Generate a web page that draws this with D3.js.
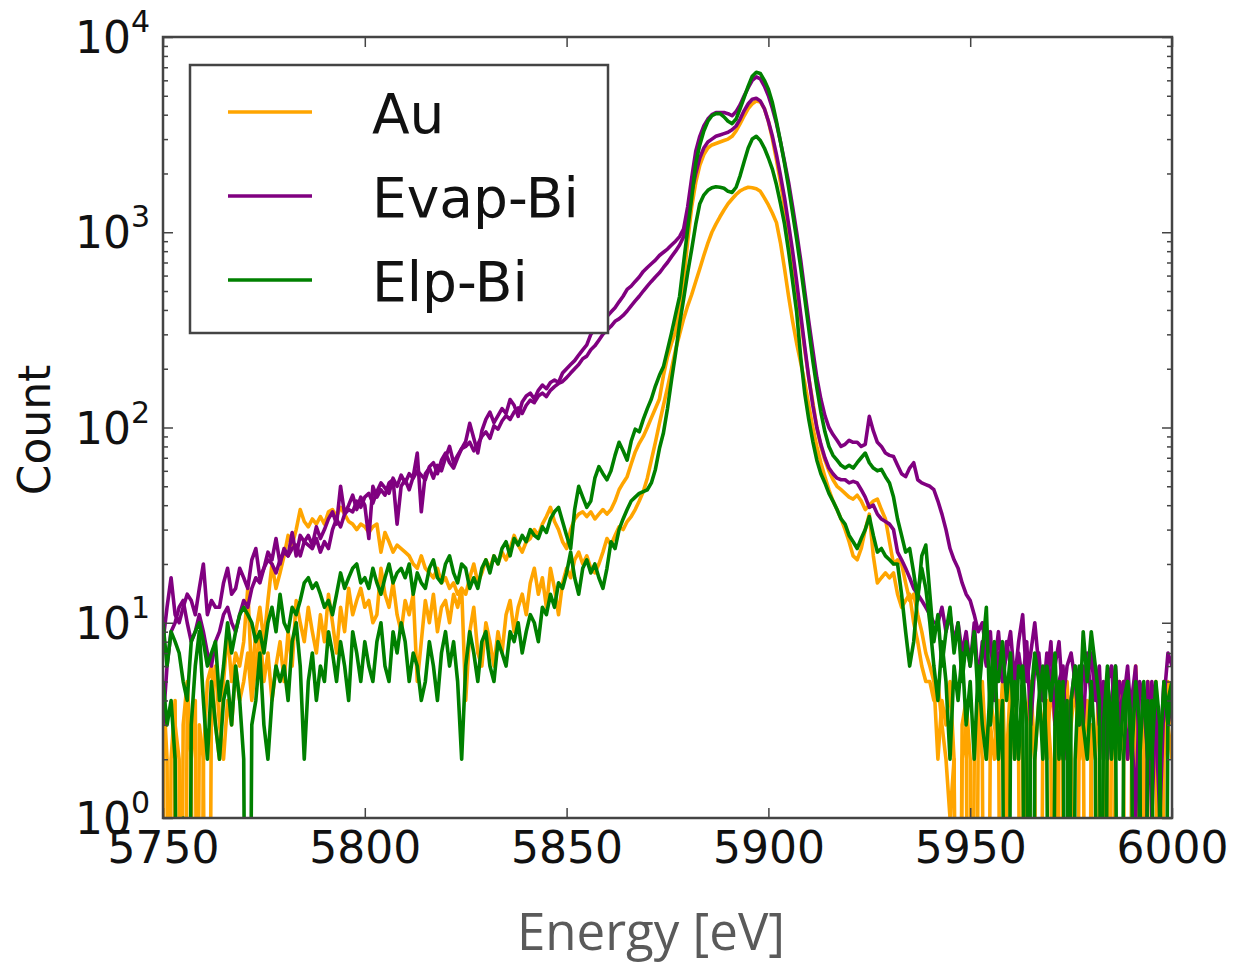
<!DOCTYPE html>
<html>
<head>
<meta charset="utf-8">
<script src="https://cdn.jsdelivr.net/npm/d3@7"></script>
<style>
  body { margin: 0; background: #fff; }
  svg text { font-family: "DejaVu Sans", sans-serif; }
</style>
</head>
<body>
<div id="chart"></div>
<script>
// energy bins: 1 eV wide, first bin at 5750 eV
var binStart = 5750;
var binWidth = 1;

var xTicks = [5750, 5800, 5850, 5900, 5950, 6000];
var yDecades = [1, 10, 100, 1000, 10000];

var seriesNames = ["Au", "Evap-Bi", "Elp-Bi"];
var seriesColors = ["#ffa500", "#800080", "#008000"];

// counts per bin, 5750 ... 6000 eV
var auHi = [
  3, 0, 2, 4, 0, 3, 5, 2, 4, 0,
  2, 5, 6, 3, 2, 5, 9, 5, 7, 6,
  8, 15, 5, 9, 12, 8, 13, 20, 15, 18,
  22, 28, 25, 30, 38, 33, 31, 34, 32, 35,
  32, 37, 38, 35, 39, 36, 33, 32, 30, 32,
  31, 29, 31, 32, 23, 29, 26, 23, 25, 24,
  23, 22, 20, 19, 22, 19, 18, 17, 19, 16,
  17, 15, 16, 14, 15, 14, 17, 20, 16, 18,
  21, 19, 22, 20, 23, 21, 24, 28, 25, 23,
  26, 27, 30, 28, 32, 35, 39, 33, 30, 26,
  24, 30, 34, 36, 37, 35, 37, 34, 36, 38,
  36, 38, 42, 48, 52, 56, 65, 75, 83, 90,
  100, 112, 125, 140, 185, 230, 270, 310, 420, 560,
  900, 1350, 1800, 2200, 2500, 2700, 2800, 2850, 2900, 2950,
  3000, 3100, 3300, 3600, 3950, 4300, 4550, 4700, 4650, 4300,
  3700, 3000, 2350, 1800, 1350, 1000, 730, 520, 360, 250,
  180, 135, 100, 80, 68, 60, 54, 50, 48, 46,
  44, 43, 45, 42, 38, 40, 42, 43, 38, 34,
  26, 20, 21, 20, 16, 13, 14, 11, 9, 7,
  6, 5, 2, 4, 3, 5, 2, 0, 3, 4,
  2, 0, 3, 5, 2, 4, 3, 2, 5, 1,
  3, 4, 2, 0, 3, 5, 2, 4, 3, 2,
  5, 3, 0, 4, 2, 3, 5, 2, 4, 0,
  3, 2, 5, 3, 2, 0, 4, 3, 5, 2,
  3, 6, 2, 4, 0, 3, 5, 2, 4, 3, 2
];

var auLo = [
  5, 2, 0, 3, 2, 0, 4, 2, 0, 3,
  2, 0, 4, 6, 3, 2, 4, 3, 6, 4,
  5, 7, 4, 6, 9, 5, 7, 4, 6, 8,
  5, 9, 6, 13, 10, 8, 12, 9, 7, 11,
  8, 14, 10, 7, 12, 9, 15, 11, 13, 15,
  12, 13, 10, 11, 19, 14, 12, 16, 11, 9,
  13, 11, 14, 5, 8, 13, 10, 14, 9, 12,
  13, 10, 14, 12, 15, 4, 9, 12, 7, 6,
  10, 8, 6, 9, 7, 11, 13, 9, 12, 14,
  11, 16, 19, 14, 17, 12, 19, 15, 11, 16,
  19, 17, 21, 23, 20, 22, 19, 18, 20, 23,
  27, 25, 28, 31, 30, 33, 35, 38, 42, 47,
  55, 68, 84, 105, 130, 160, 200, 250, 300, 360,
  420, 480, 560, 650, 760, 880, 1000, 1100, 1200, 1300,
  1400, 1480, 1560, 1630, 1670, 1700, 1690, 1670, 1620, 1500,
  1380, 1250, 1120, 880, 650, 470, 350, 270, 215, 170,
  130, 100, 80, 66, 56, 48, 42, 38, 34, 30,
  26, 22, 21, 24, 30, 36, 22, 16, 17, 18,
  17, 18, 14, 12, 13, 14, 10, 8, 6, 5,
  5, 4, 5, 3, 2, 1, 2, 0, 2, 3,
  0, 2, 4, 2, 0, 3, 2, 4, 0, 2,
  5, 2, 3, 2, 0, 4, 2, 0, 3, 4,
  2, 0, 3, 2, 5, 2, 0, 3, 2, 4,
  2, 0, 2, 4, 0, 3, 2, 5, 2, 0,
  2, 4, 0, 2, 5, 2, 3, 0, 2, 5, 3
];

var evapHi = [
  8, 12, 17, 11, 10, 12, 14, 13, 11, 15,
  20, 11, 13, 12, 12, 16, 19, 14, 15, 19,
  17, 15, 21, 24, 17, 19, 23, 21, 27, 20,
  24, 22, 29, 22, 28, 26, 28, 25, 31, 27,
  30, 34, 37, 32, 50, 36, 40, 45, 38, 44,
  40, 27, 50, 44, 48, 45, 52, 54, 32, 50,
  54, 48, 56, 74, 37, 58, 62, 55, 64, 60,
  70, 80, 66, 72, 78, 85, 105, 88, 74, 96,
  110, 120, 106, 115, 125, 118, 139, 130, 114, 135,
  145, 150, 140, 155, 165, 158, 170, 175, 170, 190,
  200, 210, 220, 235, 250, 265, 300, 320, 340, 355,
  370, 390, 410, 440, 470, 510, 530, 560, 590, 630,
  660, 690, 720, 760, 790, 820, 860, 900, 950, 1040,
  1350, 1900, 2600, 3100, 3500, 3800, 4000, 4100, 4100, 4100,
  4050, 3950, 4150, 4500, 5000, 5500, 6000, 6250, 6100, 5600,
  5000, 4300, 3600, 2900, 2300, 1800, 1350, 1000, 720, 500,
  350, 250, 180, 140, 115, 100, 92, 86, 80, 82,
  86, 84, 84, 80, 82, 114, 96, 84, 80, 74,
  72, 71, 64, 58, 56, 62, 66, 54, 52, 51,
  50, 48, 42, 36, 30, 24, 21, 19, 16, 14,
  13, 11, 9, 10, 7, 8, 6, 9, 5, 7,
  9, 5, 8, 11, 5, 7, 10, 6, 4, 7,
  5, 6, 8, 4, 6, 7, 5, 3, 6, 5,
  7, 4, 6, 2, 5, 6, 3, 5, 4, 6,
  3, 1, 5, 4, 2, 5, 3, 1, 4, 7, 6
];

var evapLo = [
  3, 6, 9, 10, 12, 13, 10, 8, 9, 11,
  9, 7, 6, 8, 9, 11, 12, 10, 9, 11,
  13, 12, 15, 17, 16, 19, 21, 20, 18, 21,
  23, 22, 24, 25, 22, 26, 25, 24, 27, 23,
  26, 24, 30, 34, 31, 36, 38, 37, 42, 39,
  44, 46, 41, 47, 52, 49, 46, 55, 50, 57,
  52, 58, 55, 60, 57, 54, 63, 66, 58, 68,
  74, 66, 62, 70, 78, 80, 84, 76, 82, 90,
  95, 88, 102, 98, 108, 115, 110, 120, 126, 118,
  130, 138, 134, 145, 150, 144, 155, 162, 168, 172,
  180, 190, 200, 210, 225, 232, 250, 262, 280, 300,
  315, 330, 350, 360, 375, 395, 420, 445, 470, 500,
  530, 560, 590, 620, 660, 700, 750, 800, 860, 950,
  1200, 1600, 2000, 2400, 2700, 2900, 3000, 3100, 3150, 3200,
  3250, 3350, 3500, 3800, 4200, 4550, 4800, 4850, 4700, 4300,
  3700, 3100, 2500, 1950, 1500, 1100, 800, 560, 380, 260,
  180, 130, 100, 82, 70, 62, 58, 55, 54, 54,
  52, 53, 52, 48, 44, 39, 40, 36, 34, 33,
  32, 30, 23, 21, 19, 17, 15, 14, 13, 12,
  11, 10, 10, 12, 9, 11, 8, 10, 7, 9,
  6, 10, 5, 8, 6, 9, 4, 7, 5, 8,
  6, 4, 7, 5, 8, 3, 6, 7, 4, 5,
  8, 3, 5, 6, 2, 4, 6, 5, 3, 7,
  4, 6, 3, 5, 2, 4, 6, 3, 5, 2,
  4, 6, 2, 0, 5, 1, 4, 2, 5, 3, 4
];

var elpHi = [
  10, 6, 9, 8, 7, 5, 4, 8, 9, 10,
  8, 6, 7, 8, 4, 6, 10, 7, 9, 11,
  12, 11, 10, 8, 9, 7, 10, 12, 9, 14,
  10, 9, 12, 11, 13, 16, 17, 15, 16, 14,
  12, 13, 11, 14, 18, 15, 17, 19, 20, 16,
  17, 15, 19, 16, 14, 17, 20, 16, 18, 19,
  17, 20, 14, 18, 16, 15, 19, 21, 17, 16,
  20, 22, 18, 16, 20, 19, 15, 17, 15, 19,
  21, 18, 22, 20, 24, 26, 22, 27, 25, 28,
  26, 30, 28, 27, 31, 29, 34, 37, 39, 33,
  28, 24, 38, 50, 44, 39, 42, 55, 63, 58,
  54, 60, 72, 84, 76, 68, 85, 98, 95, 110,
  125, 140, 163, 185, 205, 250, 305, 380, 470, 700,
  1040, 1500, 2260, 2800, 3300, 3700, 3950, 4050, 4050, 3900,
  3700, 3600, 3800, 4300, 4900, 5600, 6300, 6600, 6500, 6000,
  5400, 4600, 3700, 2900, 2250, 1700, 1250, 920, 660, 460,
  320, 220, 160, 120, 95, 80, 72, 68, 64, 62,
  64, 62, 66, 70, 74, 66, 62, 60, 61, 56,
  52, 44, 34, 28, 23, 24, 18, 13, 22, 25,
  14, 8, 11, 6, 9, 12, 7, 10, 5, 8,
  6, 9, 4, 7, 12, 3, 6, 5, 8, 4,
  7, 2, 6, 5, 0, 4, 7, 5, 2, 6,
  4, 7, 2, 5, 0, 4, 6, 3, 9, 5,
  9, 6, 4, 0, 5, 3, 6, 2, 4, 5,
  2, 5, 3, 0, 4, 2, 5, 3, 0, 4, 5
];

var elpLo = [
  5, 3, 4, 2, 0, 1, 0, 3, 6, 9,
  4, 2, 5, 3, 2, 4, 5, 3, 6, 4,
  2, 0, 3, 4, 7, 3, 2, 4, 6, 5,
  6, 4, 8, 10, 6, 2, 5, 7, 4, 6,
  5, 9, 7, 5, 8, 6, 4, 9, 7, 5,
  8, 6, 5, 8, 10, 6, 5, 9, 7, 10,
  8, 5, 7, 6, 4, 5, 8, 6, 4, 7,
  9, 6, 8, 5, 2, 6, 9, 7, 5, 8,
  9, 6, 5, 8, 7, 6, 9, 8, 10, 7,
  9, 11, 10, 8, 12, 11, 14, 12, 16, 15,
  18, 23, 17, 14, 19, 21, 18, 20, 17, 15,
  19, 26, 24, 30, 34, 38, 42, 44, 46, 47,
  48, 52, 61, 78, 94, 125, 175, 240, 340, 455,
  620, 820, 1100, 1400, 1550, 1640, 1690, 1710, 1700, 1680,
  1620, 1600, 1700, 1950, 2300, 2700, 3000, 3100, 2950, 2700,
  2400, 2100, 1750, 1400, 1100, 800, 560, 390, 230, 150,
  110, 85, 68, 58, 52, 46, 42, 38, 34, 32,
  28, 26, 24, 27, 30, 35, 28, 23, 24, 22,
  21, 20, 20, 14, 9, 6, 8, 14, 19, 15,
  10, 6, 4, 8, 5, 2, 6, 4, 7, 3,
  5, 2, 6, 3, 2, 5, 8, 2, 4, 0,
  3, 5, 2, 6, 3, 0, 2, 4, 6, 2,
  0, 3, 5, 2, 4, 0, 2, 6, 3, 2,
  5, 2, 0, 3, 6, 2, 4, 0, 2, 5,
  3, 0, 2, 5, 2, 4, 0, 2, 5, 3, 5
];

// plotting order: Au, Evap-Bi, Elp-Bi
var curves = [
  { values: auHi, color: seriesColors[0] },
  { values: auLo, color: seriesColors[0] },
  { values: evapHi, color: seriesColors[1] },
  { values: evapLo, color: seriesColors[1] },
  { values: elpHi, color: seriesColors[2] },
  { values: elpLo, color: seriesColors[2] }
];

var svgWidth = 1236;
var svgHeight = 964;

var margin = {
  top: 37,
  right: 64,
  bottom: 146,
  left: 163
};

var width = svgWidth - margin.left - margin.right;
var height = svgHeight - margin.top - margin.bottom;

var svg = d3.select("#chart")
  .append("svg")
  .attr("width", svgWidth)
  .attr("height", svgHeight);

var chartGroup = svg.append("g")
  .attr("transform", `translate(${margin.left}, ${margin.top})`);

var xLinearScale = d3.scaleLinear()
  .domain([5750, 6000])
  .range([0, width]);

var yLogScale = d3.scaleLog()
  .domain([1, 10000])
  .range([height, 0]);

// log minor ticks 2..9 in every decade
var yMinor = [];
yDecades.slice(0, -1).forEach(function(d) {
  for (var k = 2; k <= 9; k++) yMinor.push(d * k);
});

// clip so zero counts run off the bottom
svg.append("defs").append("clipPath")
  .attr("id", "plotClip")
  .append("rect")
  .attr("width", width)
  .attr("height", height);

var line = d3.line()
  .x((d, i) => xLinearScale(binStart + i * binWidth))
  .y(d => yLogScale(Math.max(d, 0.001)));

var linesGroup = chartGroup.append("g")
  .attr("clip-path", "url(#plotClip)");

curves.forEach(function(c) {
  linesGroup.append("path")
    .datum(c.values)
    .attr("fill", "none")
    .attr("stroke", c.color)
    .attr("stroke-width", 3.6)
    .attr("stroke-linejoin", "round")
    .attr("d", line);
});

// ticks pointing inward on all four sides
function tickStyle(g) {
  g.select(".domain").remove();
  g.selectAll("line").attr("stroke", "#444").attr("stroke-width", 1.5);
}

var bottomAxis = d3.axisBottom(xLinearScale)
  .tickValues(xTicks)
  .tickSize(-10)
  .tickPadding(14)
  .tickFormat(d3.format("d"));

var xAxis = chartGroup.append("g")
  .attr("transform", `translate(0, ${height})`)
  .call(bottomAxis)
  .call(tickStyle);

xAxis.selectAll("text")
  .attr("fill", "#111")
  .style("font-size", "44px");

chartGroup.append("g")
  .call(d3.axisTop(xLinearScale).tickValues(xTicks).tickSize(-10).tickFormat(""))
  .call(tickStyle);

chartGroup.append("g")
  .call(d3.axisLeft(yLogScale).tickValues(yDecades).tickSize(-10).tickFormat(""))
  .call(tickStyle);
chartGroup.append("g")
  .call(d3.axisLeft(yLogScale).tickValues(yMinor).tickSize(-5).tickFormat(""))
  .call(tickStyle);

chartGroup.append("g")
  .attr("transform", `translate(${width}, 0)`)
  .call(d3.axisRight(yLogScale).tickValues(yDecades).tickSize(-10).tickFormat(""))
  .call(tickStyle);
chartGroup.append("g")
  .attr("transform", `translate(${width}, 0)`)
  .call(d3.axisRight(yLogScale).tickValues(yMinor).tickSize(-5).tickFormat(""))
  .call(tickStyle);

// y tick labels as 10 with a superscript exponent
var yLabels = chartGroup.append("g");
yDecades.forEach(function(d) {
  var t = yLabels.append("text")
    .attr("x", -13)
    .attr("y", yLogScale(d) + 16)
    .attr("text-anchor", "end")
    .attr("fill", "#111")
    .style("font-size", "44px");
  t.append("tspan").text("10");
  t.append("tspan")
    .attr("dy", -21)
    .style("font-size", "30px")
    .text(Math.round(Math.log10(d)));
});

// frame
chartGroup.append("rect")
  .attr("width", width)
  .attr("height", height)
  .attr("fill", "none")
  .attr("stroke", "#444")
  .attr("stroke-width", 2.5);

// axis labels
svg.append("text")
  .attr("transform", "translate(50, 430) rotate(-90)")
  .attr("text-anchor", "middle")
  .attr("fill", "#111")
  .style("font-size", "44px")
  .text("Count");

svg.append("text")
  .attr("x", 651)
  .attr("y", 950)
  .attr("text-anchor", "middle")
  .attr("fill", "#5a5a5a")
  .style("font-family", "'Open Sans', sans-serif")
  .style("font-size", "51px")
  .text("Energy [eV]");

// legend
var legend = svg.append("g")
  .attr("transform", "translate(190, 65)");

legend.append("rect")
  .attr("width", 418)
  .attr("height", 268)
  .attr("fill", "#fff")
  .attr("stroke", "#444")
  .attr("stroke-width", 2.5);

seriesNames.forEach(function(name, i) {
  var ly = 47 + i * 84;
  legend.append("line")
    .attr("x1", 38)
    .attr("x2", 122)
    .attr("y1", ly)
    .attr("y2", ly)
    .attr("stroke", seriesColors[i])
    .attr("stroke-width", 3.6);
  legend.append("text")
    .attr("x", 182)
    .attr("y", ly + 21)
    .attr("fill", "#111")
    .style("font-size", "55px")
    .text(name);
});
</script>
</body>
</html>
